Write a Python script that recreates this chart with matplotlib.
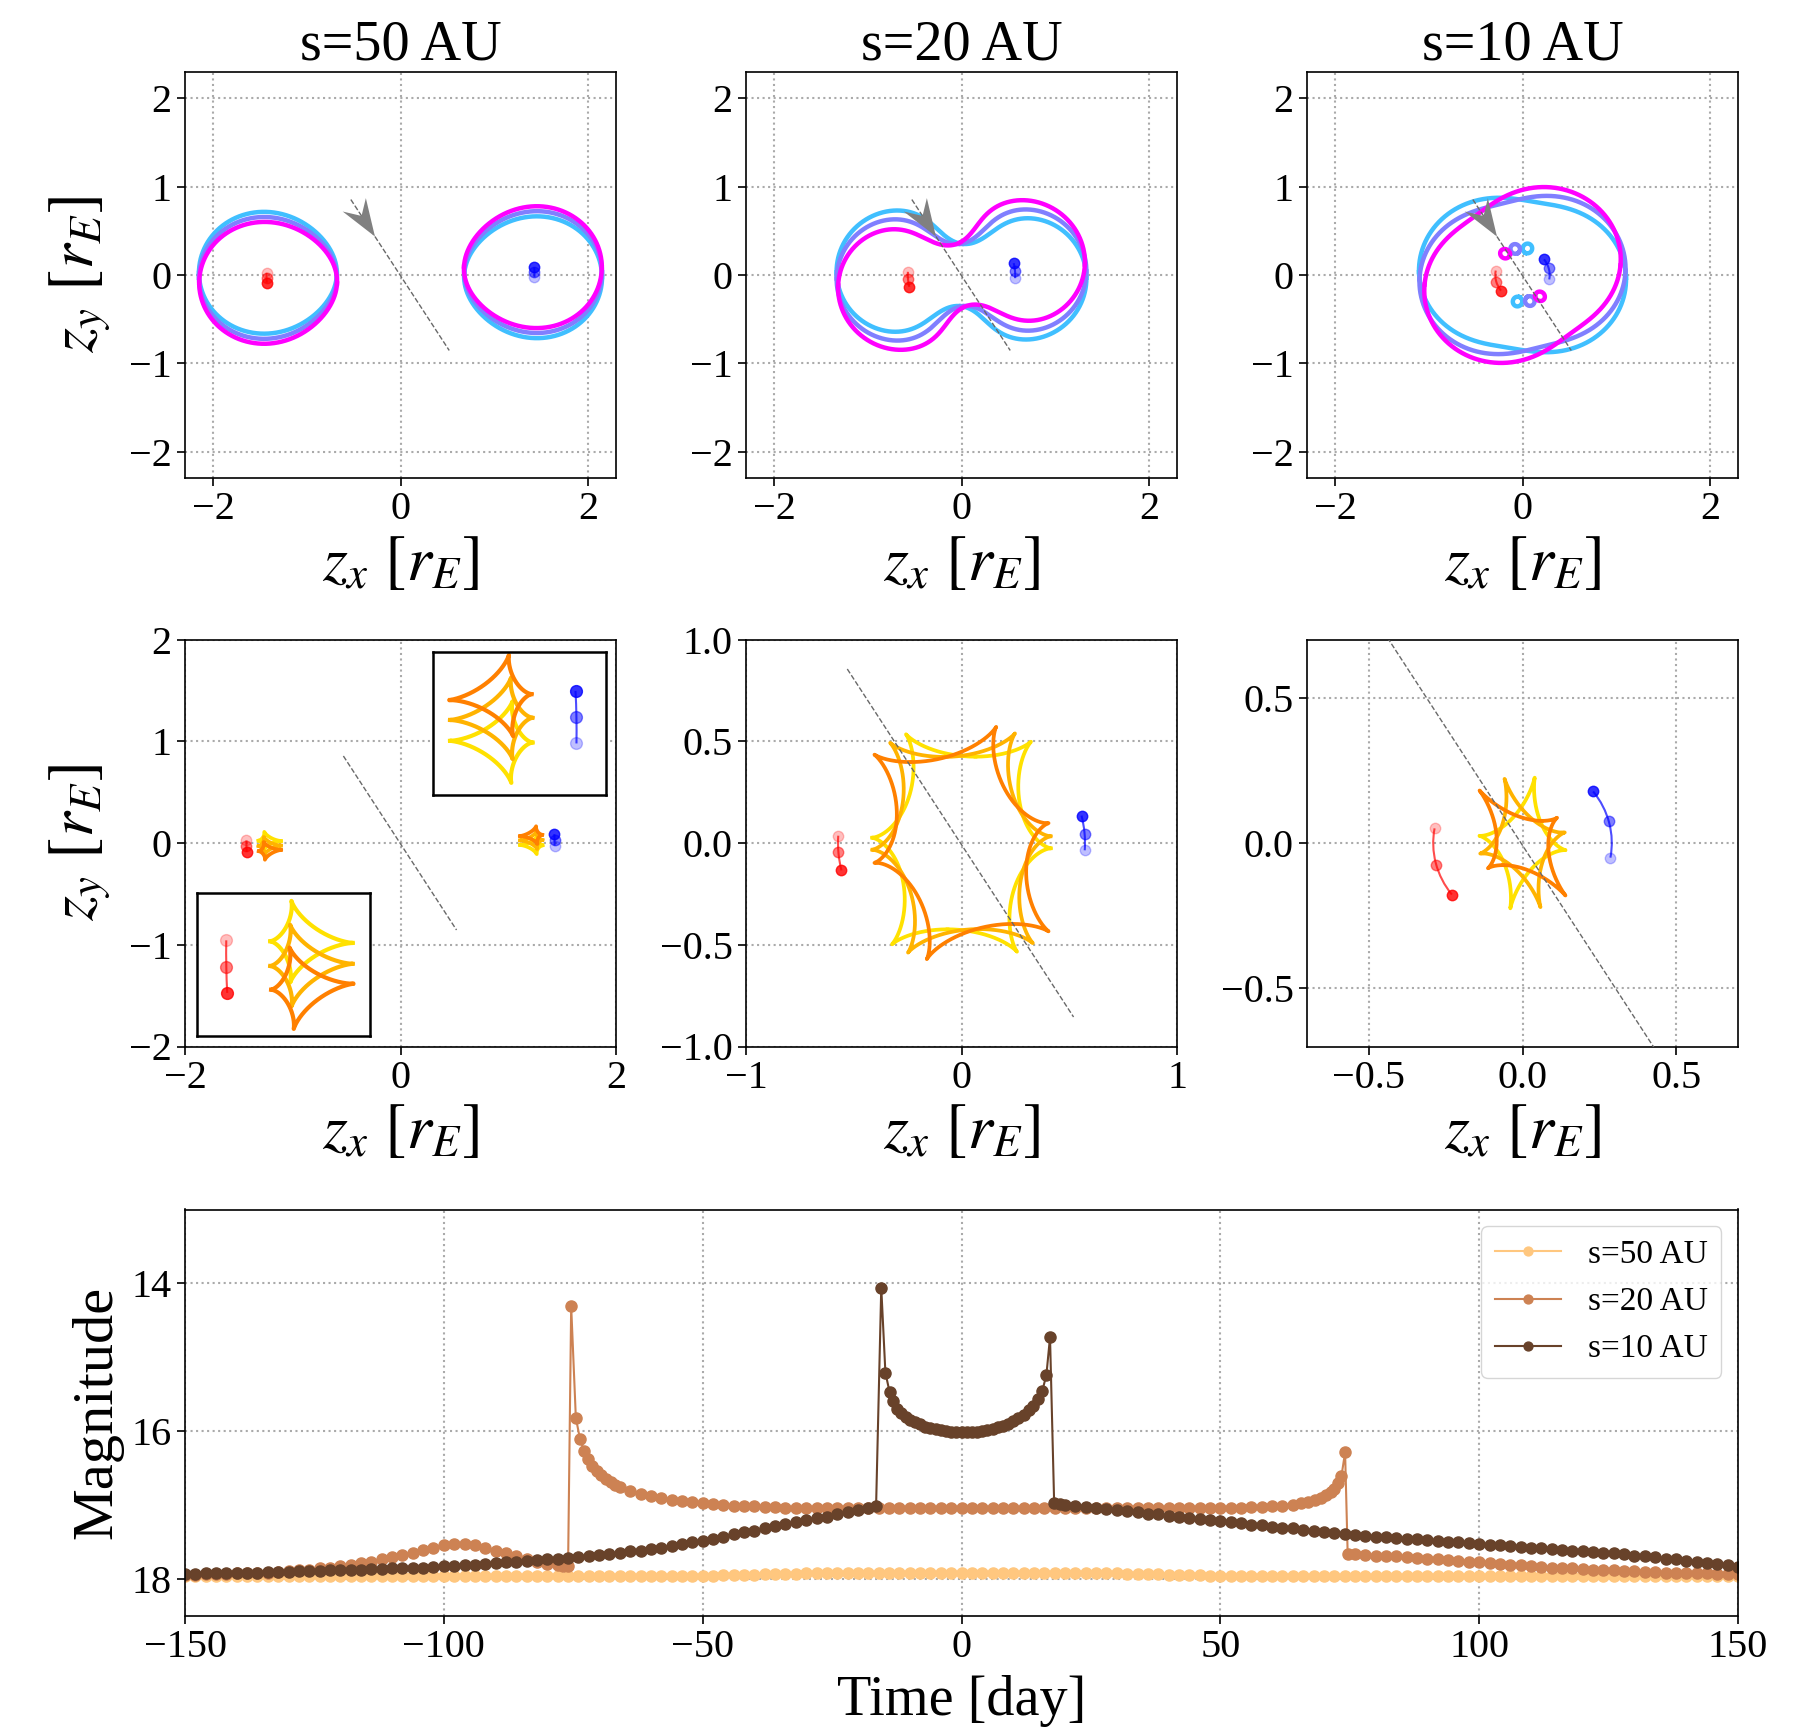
import itertools
import numpy as np
import matplotlib
matplotlib.use('Agg')
import matplotlib.pyplot as plt
from matplotlib.patches import Arc

plt.rcParams['font.family'] = 'serif'
plt.rcParams['font.serif'] = ['Liberation Serif', 'DejaVu Serif']
plt.rcParams['mathtext.fontset'] = 'stix'

# ---- lens configuration ----
titles = ['s=50 AU', 's=20 AU', 's=10 AU']
half_sep = [1.43, 0.573, 0.29]                 # projected half separation [r_E]
orb_angle = [[-1.0, 1.3, 3.5],                  # binary axis angle at 3 epochs [deg]
             [-3.6, 4.6, 13.6],
             [-10.0, 14.8, 37.7]]
mass = [0.5, 0.5]
traj_x = [-0.53, 0.52]
traj_y = [0.855, -0.855]

crit_colors = [plt.cm.cool(0.25), plt.cm.cool(0.5), plt.cm.cool(1.0)]
caus_colors = ['#ffe100', '#ffb300', '#ff8000']
epoch_alpha = [0.25, 0.5, 0.8]

# ---- light curves [day, mag] ----
t50 = np.arange(-150, 151, 2)
m50 = ([17.97] * 25 + [17.96] * 25 +
       [17.96, 17.96, 17.95, 17.95, 17.95, 17.95, 17.94, 17.94, 17.94, 17.94,
        17.93, 17.93, 17.93, 17.93, 17.93, 17.92, 17.92, 17.92, 17.92, 17.92] +
       [17.92] * 11 +
       [17.92, 17.92, 17.92, 17.92, 17.92, 17.93, 17.93, 17.93, 17.93, 17.93,
        17.94, 17.94, 17.94, 17.94, 17.95, 17.95, 17.95, 17.95, 17.96, 17.96] +
       [17.96] * 25 + [17.97] * 25)

t20 = np.concatenate([np.arange(-150, -77, 2),
                      [-77, -76, -75.4, -74.5, -73.7, -72.9, -72.1, -71.3, -70.5,
                       -69.6, -68.7, -67.8, -66.9, -66],
                      np.arange(-64, 65, 2),
                      [65.5, 67, 68.3, 69.5, 70.5, 71.3, 72.0, 72.7, 73.4, 74.1, 74.6],
                      np.arange(76, 151, 2)])
m20 = ([17.95, 17.95, 17.94, 17.94, 17.94, 17.93, 17.93, 17.92, 17.92, 17.91,
        17.90, 17.89, 17.88, 17.86, 17.85, 17.83, 17.81, 17.79, 17.77, 17.74,
        17.71, 17.68, 17.65, 17.61, 17.58, 17.55, 17.53, 17.53, 17.55, 17.58,
        17.62, 17.66, 17.70, 17.74, 17.77, 17.80, 17.82] +
       [17.83, 17.83, 14.31, 15.82, 16.11, 16.27, 16.38, 16.47, 16.54,
        16.60, 16.65, 16.69, 16.73, 16.76] +
       [16.81, 16.85, 16.88, 16.91, 16.93, 16.95, 16.96, 16.98, 16.99, 17.00,
        17.01, 17.02, 17.02, 17.03, 17.03, 17.04, 17.04, 17.04] +
       [17.05] * 39 +
       [17.05, 17.04, 17.04, 17.03, 17.03, 17.02, 17.01, 17.00] +
       [16.98, 16.96, 16.94, 16.91, 16.87, 16.83, 16.78, 16.71, 16.61, 16.29, 17.67] +
       [17.67, 17.68, 17.69, 17.70, 17.70, 17.71, 17.72, 17.73, 17.74, 17.75,
        17.76, 17.77, 17.78, 17.79, 17.80, 17.81, 17.82, 17.83, 17.84, 17.85,
        17.85, 17.86, 17.87, 17.88, 17.88, 17.89, 17.90, 17.90, 17.91, 17.91,
        17.92, 17.92, 17.93, 17.93, 17.93, 17.94, 17.94, 17.94])

t10 = np.concatenate([np.arange(-150, -17, 2),
                      [-16.5, -15.5, -14.7, -13.9, -13.2, -12.4, -11.6, -10.8],
                      np.arange(-10, 14, 1),
                      [13.8, 14.8, 15.6, 16.4, 17.1, 17.9, 19],
                      np.arange(20, 151, 2)])
m10 = ([17.94, 17.94, 17.93, 17.93, 17.93, 17.92, 17.92, 17.92, 17.91, 17.91,
        17.91, 17.90, 17.90, 17.90, 17.89, 17.89, 17.88, 17.88, 17.87, 17.87,
        17.86, 17.86, 17.85, 17.85, 17.84, 17.83, 17.83, 17.82, 17.81, 17.80,
        17.79, 17.78, 17.77, 17.76, 17.75, 17.74, 17.73, 17.72, 17.71, 17.70,
        17.68, 17.67, 17.65, 17.63, 17.62, 17.60, 17.58, 17.56, 17.53, 17.51,
        17.49, 17.46, 17.43, 17.40, 17.37, 17.35, 17.32, 17.29, 17.26, 17.24,
        17.21, 17.18, 17.16, 17.13, 17.10, 17.07, 17.04] +
       [17.02, 14.06, 15.21, 15.47, 15.60, 15.70, 15.76, 15.81] +
       [15.85, 15.88, 15.91, 15.94, 15.96, 15.98, 15.99, 16.00, 16.01, 16.02,
        16.02, 16.02, 16.02, 16.01, 16.00, 15.99, 15.97, 15.95, 15.93, 15.90,
        15.87, 15.83, 15.78, 15.72] +
       [15.66, 15.57, 15.46, 15.24, 14.73, 16.98, 16.99] +
       [17.00, 17.01, 17.03, 17.04, 17.06, 17.07, 17.09, 17.10, 17.12, 17.13,
        17.15, 17.16, 17.18, 17.19, 17.21, 17.22, 17.24, 17.25, 17.27, 17.28,
        17.30, 17.31, 17.32, 17.34, 17.35, 17.37, 17.38, 17.39, 17.41, 17.42,
        17.43, 17.44, 17.45, 17.46, 17.47, 17.48, 17.49, 17.50, 17.51, 17.52,
        17.53, 17.54, 17.55, 17.56, 17.57, 17.58, 17.59, 17.60, 17.61, 17.62,
        17.63, 17.64, 17.65, 17.66, 17.67, 17.69, 17.70, 17.71, 17.73, 17.74,
        17.76, 17.77, 17.79, 17.80, 17.82, 17.84])

lc_labels = ['s=50 AU', 's=20 AU', 's=10 AU']
lc_colors = [plt.cm.copper(1.0), plt.cm.copper(0.65), plt.cm.copper(0.33)]

# ---- critical curves / caustics of the binary lens ----
PERMS = np.array(list(itertools.permutations(range(4))))
IDX = np.arange(4)


def critical_curve(z1, z2, n=3000):
    p1 = np.polymul([1, -z1], [1, -z1])
    p2 = np.polymul([1, -z2], [1, -z2])
    quart = np.polymul(p1, p2)
    quad = np.concatenate([[0, 0], mass[0] * p2 + mass[1] * p1])
    out = np.empty((n + 1, 4), complex)
    for k, phi in enumerate(np.linspace(0, 2 * np.pi, n + 1)):
        r = np.roots(np.exp(1j * phi) * quart - quad)
        if k:
            d = np.abs(r[None, :] - out[k - 1][:, None])
            r = r[PERMS[np.argmin(d[IDX, PERMS].sum(1))]]
        out[k] = r
    return out


crit, caus = [], []
for p in range(3):
    cp, cs = [], []
    for k in range(3):
        z2 = half_sep[p] * np.exp(1j * np.radians(orb_angle[p][k]))
        z1 = -z2
        z = critical_curve(z1, z2)
        w = z - mass[0] / np.conj(z - z1) - mass[1] / np.conj(z - z2)
        cp.append(z)
        cs.append(w)
    crit.append(cp)
    caus.append(cs)


def draw_lens(ax, p, ms=7.5):
    r = half_sep[p]
    a = np.radians(orb_angle[p])
    for sgn, col, base in [(-1, 'red', 180), (1, 'blue', 0)]:
        ax.add_patch(Arc((0, 0), 2 * r, 2 * r, theta1=orb_angle[p][0] + base,
                         theta2=orb_angle[p][2] + base, color=col, lw=1.5,
                         alpha=0.7, zorder=4))
        for k in range(3):
            ax.plot(sgn * r * np.cos(a[k]), sgn * r * np.sin(a[k]), 'o', color=col,
                    ms=ms, alpha=epoch_alpha[k], zorder=5)


def draw_traj(ax, arrow):
    ax.plot(traj_x, traj_y, ls='--', color='dimgray', lw=1.0, zorder=3)
    if arrow:
        dx, dy = traj_x[1] - traj_x[0], traj_y[1] - traj_y[0]
        x0, y0 = traj_x[0] + 0.035 * dx, traj_y[0] + 0.035 * dy
        ax.arrow(x0, y0, 0.21 * dx, 0.21 * dy, head_width=0.29,
                 head_length=0.21 * np.hypot(dx, dy), length_includes_head=True,
                 overhang=0.35, color='gray', lw=0, zorder=3)


def style(ax):
    ax.grid(True, ls=':', color='#aaaaaa', lw=1.5)
    ax.set_axisbelow(True)
    ax.tick_params(labelsize=29, length=6, width=1.2)
    for s in ax.spines.values():
        s.set_linewidth(1.2)


# ---- layout (pixel boxes) ----
W, H = 1813, 1729
fig = plt.figure(figsize=(W / 100, H / 100), dpi=100)


def add_ax(x0, y0, x1, y1):
    return fig.add_axes([x0 / W, 1 - y1 / H, (x1 - x0) / W, (y1 - y0) / H])


cols = [(185, 616), (746, 1177), (1307, 1738)]
top = [add_ax(c0, 72, c1, 478) for c0, c1 in cols]
mid = [add_ax(c0, 639.5, c1, 1046.5) for c0, c1 in cols]
bot = add_ax(185, 1209.5, 1738, 1615.5)

zlab_x = r'$z_x\ [r_E]$'
zlab_y = r'$z_y\ [r_E]$'
zfs = 46

# top row: critical curves
for p, ax in enumerate(top):
    for k in range(3):
        for j in range(4):
            ax.plot(crit[p][k][:, j].real, crit[p][k][:, j].imag,
                    color=crit_colors[k], lw=3.2)
    draw_lens(ax, p)
    draw_traj(ax, True)
    ax.set_xlim(-2.3, 2.3)
    ax.set_ylim(-2.3, 2.3)
    ax.set_xticks([-2, 0, 2])
    ax.set_yticks([-2, -1, 0, 1, 2])
    ax.set_title(titles[p], fontsize=40.5, pad=8.5)
    ax.set_xlabel(zlab_x, fontsize=zfs)
    ax.xaxis.set_label_coords(0.5, -0.143)
    style(ax)
top[0].set_ylabel(zlab_y, fontsize=zfs)
top[0].yaxis.set_label_coords(-0.167, 0.5)

# middle row: caustics
mid_lim = [2.0, 1.0, 0.7]
mid_ticks = [([-2, 0, 2], [-2, -1, 0, 1, 2]),
             ([-1, 0, 1], [-1.0, -0.5, 0.0, 0.5, 1.0]),
             ([-0.5, 0.0, 0.5], [-0.5, 0.0, 0.5])]
for p, ax in enumerate(mid):
    for k in range(3):
        for j in range(4):
            ax.plot(caus[p][k][:, j].real, caus[p][k][:, j].imag,
                    color=caus_colors[k], lw=2.7)
    draw_lens(ax, p)
    draw_traj(ax, False)
    ax.set_xlim(-mid_lim[p], mid_lim[p])
    ax.set_ylim(-mid_lim[p], mid_lim[p])
    ax.set_xticks(mid_ticks[p][0])
    ax.set_yticks(mid_ticks[p][1])
    ax.set_xlabel(zlab_x, fontsize=zfs)
    ax.xaxis.set_label_coords(0.5, -0.142)
    style(ax)
mid[0].set_ylabel(zlab_y, fontsize=zfs)
mid[0].yaxis.set_label_coords(-0.167, 0.5)

# insets around the two small caustics of the wide binary
ins_boxes = [[0.027, 0.025, 0.402, 0.351], [0.575, 0.618, 0.402, 0.352]]
ins_xlim = [(-1.505, -1.065), (1.065, 1.505)]
ins_ylim = [(-0.18, 0.125), (-0.135, 0.171)]
for box, xl, yl in zip(ins_boxes, ins_xlim, ins_ylim):
    iax = mid[0].inset_axes(box)
    for k in range(3):
        for j in range(4):
            iax.plot(caus[0][k][:, j].real, caus[0][k][:, j].imag,
                     color=caus_colors[k], lw=3)
    draw_lens(iax, 0, ms=8.5)
    iax.set_xlim(*xl)
    iax.set_ylim(*yl)
    iax.set_xticks([])
    iax.set_yticks([])
    for s in iax.spines.values():
        s.set_linewidth(1.8)

# bottom: light curves
for t, m, c, lab in zip([t50, t20, t10], [m50, m20, m10], lc_colors, lc_labels):
    bot.plot(t, m, '-o', color=c, ms=8, lw=1.5, label=lab)
bot.set_xlim(-150, 150)
bot.set_ylim(18.5, 13.0)
bot.set_xticks(range(-150, 151, 50))
bot.set_yticks([14, 16, 18])
bot.set_xlabel('Time [day]', fontsize=40.5)
bot.xaxis.set_label_coords(0.5, -0.146)
bot.set_ylabel('Magnitude', fontsize=42)
bot.yaxis.set_label_coords(-0.040, 0.5)
style(bot)
bot.legend(loc='upper right', fontsize=24, labelspacing=0.5, markerscale=0.8)

fig.savefig('out.png', dpi=100)
